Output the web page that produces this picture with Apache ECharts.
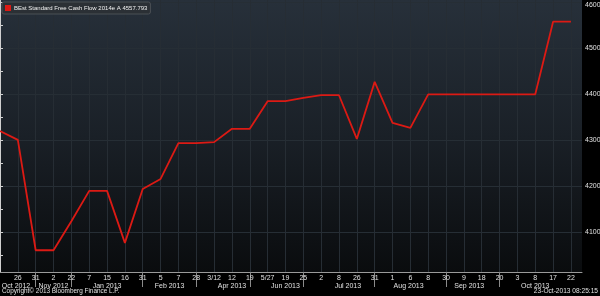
<!DOCTYPE html>
<html><head><meta charset="utf-8">
<script src="https://cdn.jsdelivr.net/npm/echarts@6/dist/echarts.min.js"></script>
<style>html,body{margin:0;padding:0;background:#000;}#c{width:600px;height:296px;}</style>
</head><body><div id="c"></div>
<script>
// --- data ---
const seriesName = 'BEst Standard Free Cash Flow 2014e A 4557.793';
const dayLabels = ['26','31','2','22','7','15','16','31','5','7','28','3/12','12','19','5/27','19','25','2','8','26','31','1','6','8','30','9','18','20','3','8','17','22'];
const values = [4320,4301,4061,4061,4124,4190,4190,4077,4194,4216,4294,4294,4296,4325,4325,4385,4385,4392,4398,4398,4303,4427,4338,4327,4400,4400,4400,4400,4400,4400,4400,4557.793,4557.793];
const monthLabels = ['Oct 2012','Nov 2012','Jan 2013','Feb 2013','Apr 2013','Jun 2013','Jul 2013','Aug 2013','Sep 2013','Oct 2013'];
const monthCenters = [0.9,3.0,6.0,9.5,13.0,16.0,19.5,22.9,26.3,30.0];
const monthBreaks = [2,4,8,11,14,17,21,25,28];
const yLabels = [4100,4200,4300,4400,4500,4600];
const yTicks = [4050,4100,4150,4200,4250,4300,4350,4400,4450,4500,4550,4600];

const font = "'Liberation Sans',Arial,sans-serif";
const chart = echarts.init(document.getElementById('c'));
const dayIdx = dayLabels.map((d,i)=>i+1);
const topLabel = yLabels[yLabels.length-1];
chart.setOption({
  backgroundColor:'#000',
  animation:false,
  grid:{left:0,right:18,top:0,bottom:24,show:true,borderWidth:0,outerBoundsMode:'none',containLabel:false,
    backgroundColor:new echarts.graphic.LinearGradient(0,0,0,1,[{offset:0,color:'#27303a'},{offset:0.5,color:'#1a2027'},{offset:1,color:'#0a0c0e'}])},
  legend:{left:2,top:2,padding:[3,3,3,3],itemWidth:6,itemHeight:6,itemGap:2,icon:'rect',
    backgroundColor:'#2b3035',borderColor:'#4b5055',borderWidth:1,borderRadius:2,
    textStyle:{color:'#f0f0f0',fontSize:6,fontFamily:font,padding:[0,0,0,-2]},data:[seriesName]},
  xAxis:[{
    type:'value',min:0,max:32.62,
    axisLine:{show:true,lineStyle:{color:'#9a9a9a',width:1}},
    axisTick:{show:false,customValues:dayIdx},
    axisLabel:{customValues:dayIdx,color:'#e0e0e0',fontSize:7,fontFamily:font,margin:3,
      formatter:v=>dayLabels[Math.round(v)-1]||''},
    splitLine:{show:true,lineStyle:{color:'#262d34',width:1}}
  },{
    type:'value',min:0,max:32.62,position:'bottom',
    axisLine:{show:false},
    axisTick:{show:true,customValues:monthBreaks,length:15,inside:false,lineStyle:{color:'#8a8a8a'}},
    axisLabel:{customValues:monthCenters,color:'#e0e0e0',fontSize:7,fontFamily:font,margin:11,
      formatter:v=>{const i=monthCenters.indexOf(v);return i>=0?monthLabels[i]:'';}},
    splitLine:{show:false}
  }],
  yAxis:{
    type:'value',position:'right',min:4013.7,max:4605,
    axisLine:{show:true,lineStyle:{color:'#d0d0d0',width:1}},
    axisTick:{show:true,customValues:yTicks,length:3,lineStyle:{color:'#d0d0d0'}},
    axisLabel:{customValues:yLabels,color:'#e0e0e0',fontSize:7,fontFamily:font,margin:3,
      formatter:v=>v===topLabel?'{t|'+v+'}':String(v),
      rich:{t:{padding:[6,0,0,0],fontSize:7,fontFamily:font,color:'#e0e0e0'}}},
    splitLine:{show:true,lineStyle:{color:['transparent','#262e35']}}
  },
  series:[{
    name:seriesName,type:'line',showSymbol:false,
    data:values.map((v,i)=>[i,v]),
    lineStyle:{color:'#dc1a14',width:1.8},itemStyle:{color:'#dc1a14'}
  }],
  graphic:[
    {type:'text',left:2,top:288,style:{text:'Copyright\u00a9 2013 Bloomberg Finance L.P.',fill:'#e0e0e0',font:'6.4px '+font}},
    {type:'text',right:2,top:288,style:{text:'23-Oct-2013 08:25:15',fill:'#e0e0e0',font:'6.6px '+font}}
  ]
});
</script></body></html>
